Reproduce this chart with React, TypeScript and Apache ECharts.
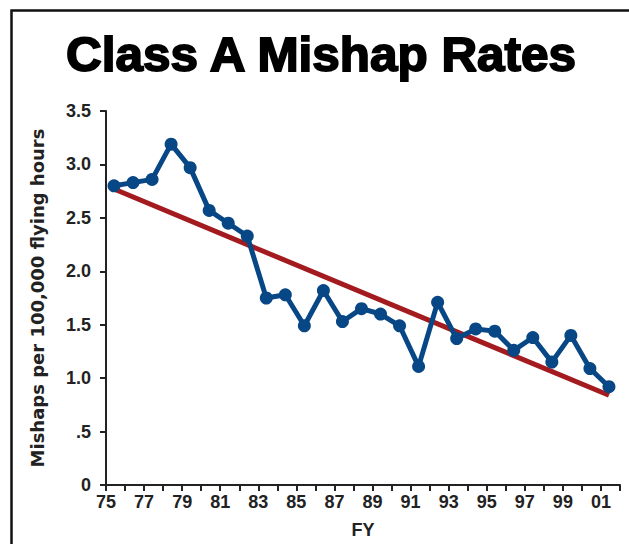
import React, { useEffect, useRef } from "react";
import * as echarts from "echarts";

const titleText = "Class A Mishap Rates";
const yAxisName = "Mishaps per 100,000 flying hours";
const xAxisName = "FY";

const years = [
  1975, 1976, 1977, 1978, 1979, 1980, 1981, 1982, 1983, 1984, 1985, 1986, 1987, 1988,
  1989, 1990, 1991, 1992, 1993, 1994, 1995, 1996, 1997, 1998, 1999, 2000, 2001,
];
const rates = [
  2.8, 2.83, 2.86, 3.19, 2.97, 2.57, 2.45, 2.33, 1.75, 1.78, 1.49, 1.82, 1.53, 1.65,
  1.6, 1.49, 1.11, 1.71, 1.37, 1.46, 1.44, 1.26, 1.38, 1.15, 1.4, 1.09, 0.92,
];
const trendYears = [1975, 2001];
const trendValues = [2.77, 0.84];

const FONT = '"Liberation Sans", Arial, sans-serif';
const WIDE_FONT = '"DejaVu Sans", "Liberation Sans", sans-serif';

export default function App() {
  const ref = useRef<HTMLDivElement>(null);
  useEffect(() => {
    document.body.style.margin = "0";
    if (!ref.current) return;
    const chart = echarts.init(ref.current, null, { renderer: "svg" });
    const yr = (y: number) => y - 1900 + 0.42;
    chart.setOption({
      animation: false,
      backgroundColor: "#fff",
      textStyle: { fontFamily: FONT },
      graphic: [
        {
          type: "rect",
          shape: { x: 11.5, y: 10.5, width: 800, height: 800 },
          style: { fill: "none", stroke: "#111", lineWidth: 2.5 },
          silent: true,
        },
        {
          type: "text",
          x: 321,
          y: 54,
          scaleX: 1.03,
          originX: 0,
          style: {
            text: titleText,
            font: `bold 48px ${FONT}`,
            fill: "#000",
            stroke: "#000",
            lineWidth: 1.8,
            textAlign: "center",
            textVerticalAlign: "middle",
          },
        },
      ],
      grid: { left: 106, right: 9, top: 111, bottom: 58.5, containLabel: false },
      xAxis: {
        type: "value",
        min: 75,
        max: 102,
        interval: 1,
        name: xAxisName,
        nameLocation: "middle",
        nameGap: 36,
        nameTextStyle: { fontFamily: FONT, fontWeight: "bold", fontSize: 18, color: "#222" },
        axisLine: { show: true, onZero: false, lineStyle: { color: "#222", width: 2 } },
        axisTick: { show: true, length: 6, lineStyle: { color: "#222", width: 2 } },
        splitLine: { show: false },
        axisLabel: {
          margin: 8,
          fontFamily: FONT,
          fontWeight: "bold",
          fontSize: 18,
          color: "#222",
          showMaxLabel: true,
          formatter: (v: number) =>
            v % 2 === 1 && v <= 101 ? String(v % 100).padStart(2, "0") : "",
        },
      },
      yAxis: {
        type: "value",
        min: 0,
        max: 3.5,
        interval: 0.5,
        name: yAxisName,
        nameLocation: "middle",
        nameGap: 60,
        nameRotate: 90,
        nameTextStyle: { fontFamily: WIDE_FONT, fontWeight: "bold", fontSize: 18, color: "#222" },
        axisLine: { show: true, lineStyle: { color: "#222", width: 2 } },
        axisTick: { show: true, length: 6, lineStyle: { color: "#222", width: 2 } },
        splitLine: { show: false },
        axisLabel: {
          margin: 15,
          fontFamily: FONT,
          fontWeight: "bold",
          fontSize: 18,
          color: "#222",
          formatter: (v: number) => (v === 0 ? "0" : v < 1 ? "." + Math.round(v * 10) : v.toFixed(1)),
        },
      },
      series: [
        {
          type: "line",
          name: "Trend",
          data: trendYears.map((y, i) => [yr(y), trendValues[i]]),
          showSymbol: false,
          symbol: "none",
          lineStyle: { color: "#a31b1f", width: 5 },
          z: 2,
        },
        {
          type: "line",
          name: "Rate",
          data: years.map((y, i) => [yr(y), rates[i]]),
          symbol: "circle",
          symbolSize: 13,
          itemStyle: { color: "#084785" },
          lineStyle: { color: "#084785", width: 5 },
          z: 3,
        },
      ],
    });
    return () => chart.dispose();
  }, []);
  return <div ref={ref} style={{ width: 629, height: 544 }} />;
}
